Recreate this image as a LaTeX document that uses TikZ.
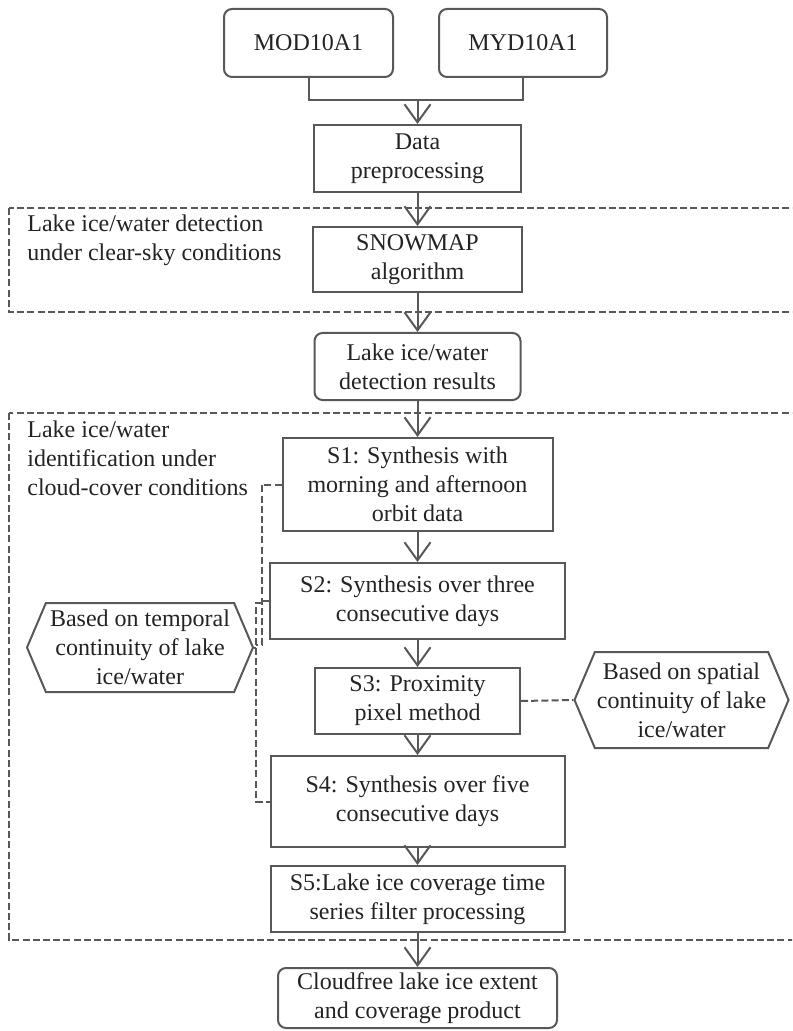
\documentclass[tikz,border=0pt]{standalone}
\usepackage{fontspec}
\setmainfont{Liberation Serif}
\usetikzlibrary{arrows.meta,shapes.symbols}
\definecolor{lgray}{RGB}{88,88,88}
\definecolor{tblack}{RGB}{35,35,35}

\begin{document}
\begin{tikzpicture}[x=0.5pt,y=-0.5pt,
  font=\fontsize{12}{14.5}\selectfont,
  gline/.style={draw=lgray,line width=1pt},
  procbox/.style={gline,align=center,inner sep=1pt,text=tblack},
  rbox/.style={procbox,rounded corners=4pt},
  dline/.style={gline,dash pattern=on 3.5pt off 1.6pt},
  arr/.style={gline,-{Straight Barb[length=9pt,width=13pt]}},
  hexa/.style={procbox,signal,signal to=west and east,signal pointer angle=134},
  region/.style={anchor=north west,align=left,inner sep=0pt,text=tblack}]
\clip (0,0) rectangle (792,1031);
\node[rbox,minimum width=84.5pt,minimum height=34pt] (mod) at (308.5,43) {MOD10A1};
\node[rbox,minimum width=84pt,minimum height=34pt] (myd) at (523,43) {MYD10A1};
\node[procbox,minimum width=103.5pt,minimum height=33.5pt] (prep) at (417.5,158.5) {Data\\preprocessing};
\node[procbox,minimum width=104.5pt,minimum height=32.5pt] (snow) at (417.5,259.5) {SNOWMAP\\algorithm};
\node[rbox,minimum width=103pt,minimum height=33.5pt] (res) at (417.5,366.5) {Lake ice/water\\detection results};
\node[procbox,minimum width=135pt,minimum height=46.5pt] (s1) at (417.5,484.5) {S1: Synthesis with\\morning and afternoon\\orbit data};
\node[procbox,minimum width=147.5pt,minimum height=38pt] (s2) at (417.5,601) {S2: Synthesis over three\\consecutive days};
\node[procbox,minimum width=102.5pt,minimum height=33pt] (s3) at (417.5,701) {S3: Proximity\\pixel method};
\node[procbox,minimum width=147pt,minimum height=45.5pt] (s4) at (417.5,801.5) {S4: Synthesis over five\\consecutive days};
\node[procbox,minimum width=147pt,minimum height=33pt] (s5) at (417.5,899) {S5:Lake ice coverage time\\series filter processing};
\node[rbox,minimum width=139.5pt,minimum height=30pt] (prod) at (417.5,998) {Cloudfree lake ice extent\\and coverage product};
\node[hexa,minimum width=113pt,minimum height=44.5pt] (hexT) at (140,647.5) {Based on temporal\\continuity of lake\\ice/water};
\node[hexa,minimum width=106.5pt,minimum height=48pt] (hexS) at (681.5,700) {Based on spatial\\continuity of lake\\ice/water};
\draw[dline] (9,208) rectangle (800,312);
\draw[dline] (9,413) rectangle (800,940);
\node[region] (lab1) at (27,214) {Lake ice/water detection\\under clear-sky conditions};
\node[region] (lab2) at (27,420) {Lake ice/water\\identification under\\cloud-cover conditions};
\coordinate (mj) at (417.5,100);
\coordinate (ka) at (262,645);
\coordinate (kb) at (256,603);
\draw[gline] (mod.south) |- (mj) -| (myd.south);
\draw[arr] (mj) -- (prep.north);
\draw[arr] (prep) -- (snow);
\draw[arr] (snow) -- (res);
\draw[arr] (res) -- (s1);
\draw[arr] (s1) -- (s2);
\draw[arr] (s2) -- (s3);
\draw[arr] (s3) -- (s4);
\draw[arr] (s4) -- (s5);
\draw[arr] (s5) -- (prod);
\draw[dline] (s1.west) -| (ka) -- ++(-6,0);
\draw[dline] (s2.west) -- (s2.west -| ka);
\draw[dline] (kb -| ka) -- (kb) |- (s4.west);
\draw[gline] (hexT.east) -- (hexT.east -| kb);
\draw[dline] (s3.east) -- (hexS.west);
\end{tikzpicture}
\end{document}
